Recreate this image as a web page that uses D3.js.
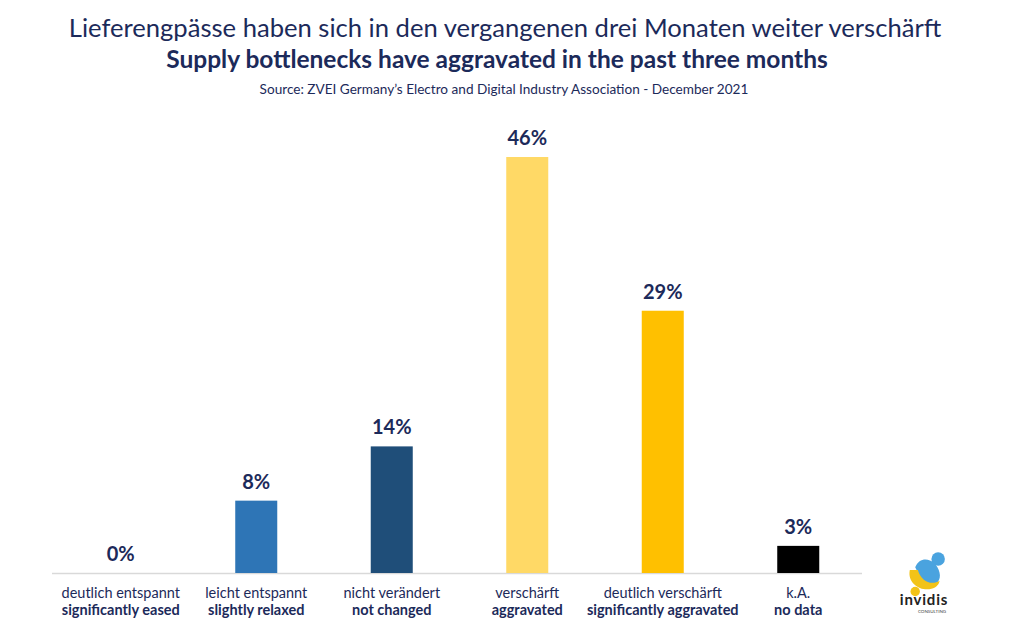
<!DOCTYPE html>
<html><head><meta charset="utf-8">
<script src="https://cdn.jsdelivr.net/npm/d3@7"></script>
<style>body{margin:0;background:#fff;} svg{display:block;font-family:Lato,"Open Sans",sans-serif;}</style>
</head><body><svg id="c" width="1024" height="640"></svg>
<script>
const categoriesDe = ["deutlich entspannt","leicht entspannt","nicht verändert","verschärft","deutlich verschärft","k.A."];
const categoriesEn = ["significantly eased","slightly relaxed","not changed","aggravated","significantly aggravated","no data"];
const values = [0, 8, 14, 46, 29, 3];
const colors = ["#2e75b6","#2e75b6","#1f4e79","#ffd966","#ffc000","#000000"];
const titleDe = "Lieferengpässe haben sich in den vergangenen drei Monaten weiter verschärft";
const titleEn = "Supply bottlenecks have aggravated in the past three months";
const source = "Source: ZVEI Germany’s Electro and Digital Industry Association -  December 2021";

const svg = d3.select("#c");
const navy = "#1c2a5a";
const x = d3.scaleBand().domain(d3.range(values.length)).range([53, 866]).paddingInner(0.69).paddingOuter(0.345);
const y = d3.scaleLinear().domain([0, 46]).range([573, 157]);

svg.append("text").attr("x",505).attr("y",37).attr("text-anchor","middle").attr("font-size",25.6).attr("fill",navy).text(titleDe);
svg.append("text").attr("x",497).attr("y",68).attr("text-anchor","middle").attr("font-size",24.5).attr("font-weight","bold").attr("fill",navy).text(titleEn);
svg.append("text").attr("x",504).attr("y",94).attr("text-anchor","middle").attr("font-size",13.6).attr("fill",navy).text(source);

svg.append("line").attr("x1",52).attr("x2",862).attr("y1",573.5).attr("y2",573.5).attr("stroke","#d9d9d9").attr("stroke-width",1.5);

svg.selectAll("rect.bar").data(values).join("rect").attr("class","bar")
  .attr("x",(d,i)=>x(i)).attr("width",x.bandwidth())
  .attr("y",d=>y(d)).attr("height",d=>y(0)-y(d)).attr("fill",(d,i)=>colors[i]);

svg.selectAll("text.val").data(values).join("text").attr("class","val")
  .attr("x",(d,i)=>x(i)+x.bandwidth()/2).attr("y",d=>y(d)-12)
  .attr("text-anchor","middle").attr("font-size",20).attr("font-weight","bold").attr("fill",navy).text(d=>d+"%");

const lab = svg.selectAll("g.lab").data(values).join("g").attr("class","lab")
  .attr("transform",(d,i)=>`translate(${x(i)+x.bandwidth()/2},0)`);
lab.append("text").attr("y",598).attr("text-anchor","middle").attr("font-size",14.5).attr("fill",navy).text((d,i)=>categoriesDe[i]);
lab.append("text").attr("y",615).attr("text-anchor","middle").attr("font-size",14.5).attr("font-weight","bold").attr("fill",navy).text((d,i)=>categoriesEn[i]);

// logo
const g = svg.append("g").attr("transform","translate(926,578)");
const ic = g.append("g").attr("transform","scale(1.35)");
ic.append("circle").attr("cx",9).attr("cy",-14).attr("r",5).attr("fill","#4aa3df");
ic.append("path").attr("d","M-8,-8 C-4,-18 8,-14 10,-4 C12,4 4,8 -2,4 Z").attr("fill","#4aa3df");
ic.append("path").attr("d","M-12,-6 C-14,4 -4,10 4,8 C8,7 10,4 10,2 C4,6 -4,2 -6,-6 Z").attr("fill","#f2c318");
ic.append("circle").attr("cx",-8).attr("cy",10).attr("r",3.5).attr("fill","#f2c318");
g.append("text").attr("x",-2).attr("y",27).attr("text-anchor","middle").attr("font-size",15).attr("font-weight","bold").attr("fill","#222").attr("letter-spacing",0.8).text("invidis");
g.append("text").attr("x",6).attr("y",35).attr("text-anchor","middle").attr("font-size",4.5).attr("fill","#444").text("CONSULTING");
</script></body></html>
